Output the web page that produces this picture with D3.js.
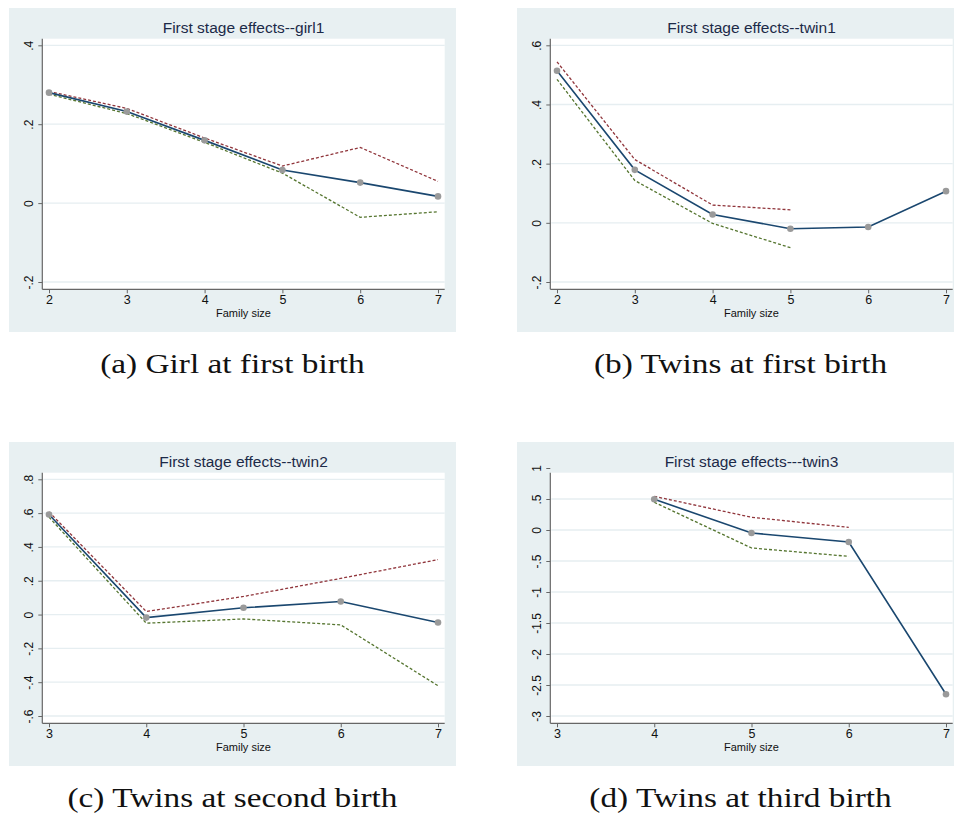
<!DOCTYPE html>
<html>
<head>
<meta charset="utf-8">
<script src="https://cdn.jsdelivr.net/npm/d3@7"></script>
<style>
  body { margin: 0; background: #ffffff; }
  svg { display: block; }
</style>
</head>
<body>
<svg id="fig" width="954" height="816"></svg>
<script>
// ---- First-stage estimates by family size, with upper / lower bounds ----
const girl1Sizes = [2, 3, 4, 5, 6, 7];
const girl1Est   = [0.280, 0.232, 0.159, 0.084, 0.052, 0.017];
const girl1Upper = [0.283, 0.240, 0.165, 0.094, 0.141, 0.055];
const girl1Lower = [0.276, 0.227, 0.154, 0.076, -0.036, -0.022];
const girl1YTicks = [-0.2, 0, 0.2, 0.4];
const girl1YLabels = ["-.2", "0", ".2", ".4"];

const twin1Sizes = [2, 3, 4, 5, 6, 7];
const twin1Est   = [0.514, 0.179, 0.028, -0.020, -0.014, 0.107];
const twin1Upper = [0.544, 0.214, 0.060, 0.044, null, null];
const twin1Lower = [0.485, 0.143, -0.002, -0.084, null, null];
const twin1YTicks = [-0.2, 0, 0.2, 0.4, 0.6];
const twin1YLabels = ["-.2", "0", ".2", ".4", ".6"];

const twin2Sizes = [3, 4, 5, 6, 7];
const twin2Est   = [0.592, -0.018, 0.040, 0.077, -0.047];
const twin2Upper = [0.607, 0.018, 0.107, 0.214, 0.325];
const twin2Lower = [0.576, -0.051, -0.026, -0.061, -0.421];
const twin2YTicks = [-0.6, -0.4, -0.2, 0, 0.2, 0.4, 0.6, 0.8];
const twin2YLabels = ["-.6", "-.4", "-.2", "0", ".2", ".4", ".6", ".8"];

const twin3Sizes = [4, 5, 6, 7];
const twin3Est   = [0.495, -0.048, -0.194, -2.65];
const twin3Upper = [0.543, 0.205, 0.043, null];
const twin3Lower = [0.447, -0.290, -0.425, null];
const twin3YTicks = [-3, -2.5, -2, -1.5, -1, -0.5, 0, 0.5, 1];
const twin3YLabels = ["-3", "-2.5", "-2", "-1.5", "-1", "-.5", "0", ".5", "1"];

const titles = ["First stage effects--girl1", "First stage effects--twin1",
                "First stage effects--twin2", "First stage effects---twin3"];
const captions = ["(a) Girl at first birth", "(b) Twins at first birth",
                  "(c) Twins at second birth", "(d) Twins at third birth"];
const xLabel = "Family size";

// ---- Panel layout ----
const panels = [
  { x: 9,   y: 8,   sizes: girl1Sizes, est: girl1Est, up: girl1Upper, lo: girl1Lower,
    xDomain: [2, 7], yTicks: girl1YTicks, yLabels: girl1YLabels, yTopPx: 37.3 },
  { x: 517, y: 8,   sizes: twin1Sizes, est: twin1Est, up: twin1Upper, lo: twin1Lower,
    xDomain: [2, 7], yTicks: twin1YTicks, yLabels: twin1YLabels, yTopPx: 37.3 },
  { x: 9,   y: 442, sizes: twin2Sizes, est: twin2Est, up: twin2Upper, lo: twin2Lower,
    xDomain: [3, 7], yTicks: twin2YTicks, yLabels: twin2YLabels, yTopPx: 37.3 },
  { x: 517, y: 442, sizes: twin3Sizes, est: twin3Est, up: twin3Upper, lo: twin3Lower,
    xDomain: [3, 7], yTicks: twin3YTicks, yLabels: twin3YLabels, yTopPx: 26 }
];

const PANEL_W = 447, PANEL_H = 324;
const PLOT = { left: 33.3, right: 435.7, top: 30.7, bottom: 281.3 };
const X_RANGE = [40, 429];
const Y_BOTTOM_PX = 274;

const COLORS = {
  bg: "#e8f0f2",
  grid: "#e6eef1",
  axis: "#666666",
  est: "#1a476f",
  upper: "#90353b",
  lower: "#55752f",
  marker: "#9a9a9a",
  title: "#1c2a48"
};

const svg = d3.select("#fig");

panels.forEach((p, i) => {
  const g = svg.append("g").attr("transform", `translate(${p.x},${p.y})`);

  // graph region and plot region
  g.append("rect").attr("width", PANEL_W).attr("height", PANEL_H).attr("fill", COLORS.bg);
  g.append("rect")
    .attr("x", PLOT.left).attr("y", PLOT.top)
    .attr("width", PLOT.right - PLOT.left).attr("height", PLOT.bottom - PLOT.top)
    .attr("fill", "#ffffff");

  const x = d3.scaleLinear().domain(p.xDomain).range(X_RANGE);
  const y = d3.scaleLinear()
    .domain([p.yTicks[0], p.yTicks[p.yTicks.length - 1]])
    .range([Y_BOTTOM_PX, p.yTopPx]);

  // horizontal grid lines
  g.append("g").selectAll("line")
    .data(p.yTicks.filter(t => y(t) > PLOT.top + 1 && y(t) < PLOT.bottom - 1))
    .join("line")
    .attr("x1", PLOT.left + 1).attr("x2", PLOT.right)
    .attr("y1", d => y(d)).attr("y2", d => y(d))
    .attr("stroke", COLORS.grid).attr("stroke-width", 1.3);

  // axes
  const xAxis = d3.axisBottom(x).tickValues(d3.range(p.xDomain[0], p.xDomain[1] + 1))
    .tickFormat(d3.format("d")).tickSize(4).tickPadding(2);
  const xg = g.append("g").attr("transform", `translate(0,${PLOT.bottom})`).call(xAxis);
  xg.select(".domain").attr("d", `M${PLOT.left},0H${PLOT.right}`);

  const yAxis = d3.axisLeft(y).tickValues(p.yTicks)
    .tickFormat((d, k) => p.yLabels[k]).tickSize(4);
  const yg = g.append("g").attr("transform", `translate(${PLOT.left},0)`).call(yAxis);
  yg.select(".domain").attr("d", `M0,${PLOT.top}V${PLOT.bottom}`);

  [xg, yg].forEach(ax => {
    ax.select(".domain").attr("stroke", COLORS.axis).attr("stroke-width", 1.2);
    ax.selectAll(".tick line").attr("stroke", COLORS.axis).attr("stroke-width", 1);
    ax.selectAll(".tick text")
      .attr("fill", "#111").attr("font-family", "Liberation Sans, Arial, sans-serif");
  });
  xg.selectAll(".tick text").attr("font-size", 12.5).attr("dy", "0.71em");
  yg.selectAll(".tick text")
    .attr("font-size", 12)
    .attr("text-anchor", "middle")
    .attr("x", null).attr("dy", null)
    .attr("transform", "translate(-9.5,0) rotate(-90)");

  // bound lines (dashed) and the estimate line with markers
  const lineGen = d3.line()
    .defined(d => d[1] !== null)
    .x(d => x(d[0])).y(d => y(d[1]));
  const pairs = arr => p.sizes.map((s, k) => [s, arr[k]]);

  g.append("path").datum(pairs(p.up)).attr("d", lineGen)
    .attr("fill", "none").attr("stroke", COLORS.upper)
    .attr("stroke-width", 1.3).attr("stroke-dasharray", "3,2");
  g.append("path").datum(pairs(p.lo)).attr("d", lineGen)
    .attr("fill", "none").attr("stroke", COLORS.lower)
    .attr("stroke-width", 1.3).attr("stroke-dasharray", "3,2");
  g.append("path").datum(pairs(p.est)).attr("d", lineGen)
    .attr("fill", "none").attr("stroke", COLORS.est).attr("stroke-width", 1.6);

  g.append("g").selectAll("circle").data(pairs(p.est)).join("circle")
    .attr("cx", d => x(d[0])).attr("cy", d => y(d[1])).attr("r", 3.3)
    .attr("fill", COLORS.marker);

  // title and axis title
  const cx = (PLOT.left + PLOT.right) / 2;
  g.append("text").attr("x", cx).attr("y", 25)
    .attr("text-anchor", "middle").attr("font-family", "Liberation Sans, Arial, sans-serif")
    .attr("font-size", 15.5).attr("fill", COLORS.title).text(titles[i]);
  g.append("text").attr("x", cx).attr("y", 309)
    .attr("text-anchor", "middle").attr("font-family", "Liberation Sans, Arial, sans-serif")
    .attr("font-size", 11).attr("fill", "#111").text(xLabel);

  // subfigure caption: a light serif, widened to the typeset proportions
  const cap = g.append("g").attr("transform", `translate(${PANEL_W / 2},365.3) scale(1.19,1)`);
  cap.append("text").attr("x", 0).attr("y", 0)
    .attr("text-anchor", "middle").attr("font-family", "Liberation Serif, serif")
    .attr("font-size", 28).attr("fill", "#111").text(captions[i]);
});
</script>
</body>
</html>
